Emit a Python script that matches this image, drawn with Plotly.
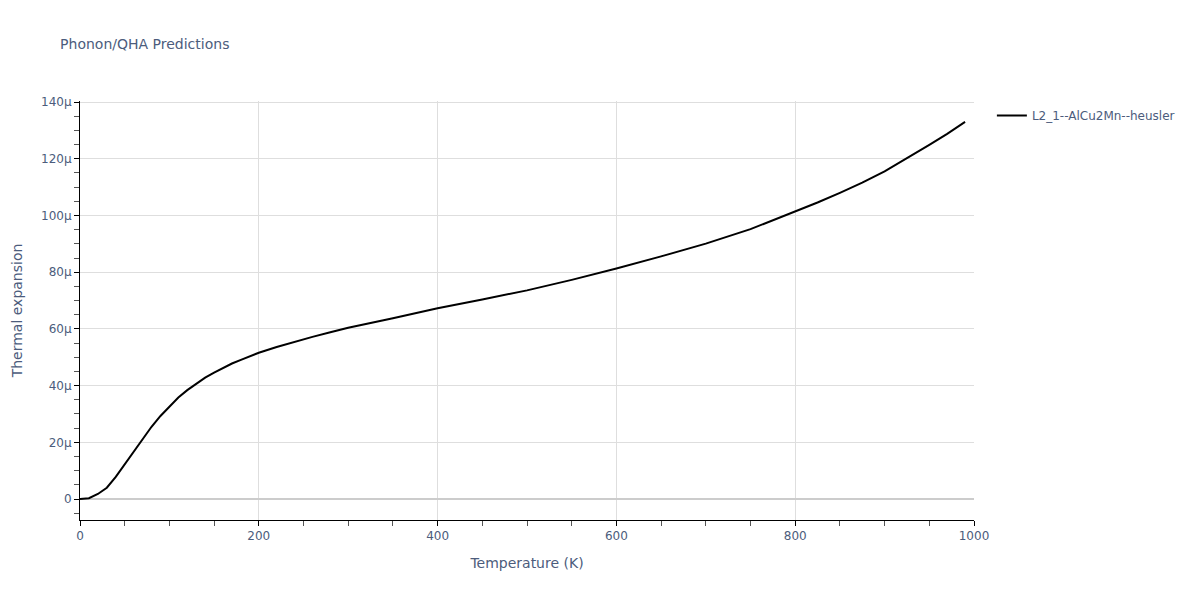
import plotly.graph_objects as go

# phonon / QHA thermal expansion
temperature = [0, 10, 20, 30, 40, 50, 60, 70, 80, 90, 100, 110, 120, 130, 140,
               150, 160, 170, 180, 190, 200, 220, 240, 260, 280, 300, 350, 400,
               450, 500, 550, 600, 650, 700, 750, 800, 825, 850, 875, 900, 925,
               950, 970, 990]
expansion_micro = [0, 0.3, 1.8, 4.0, 7.8, 12.2, 16.5, 20.8, 25.5, 29.3, 32.5,
                   35.8, 38.4, 40.7, 42.8, 44.6, 46.3, 47.8, 49.1, 50.4, 51.6,
                   53.6, 55.5, 57.2, 58.8, 60.4, 63.8, 67.3, 70.4, 73.6, 77.3,
                   81.3, 85.6, 90.1, 95.2, 101.4, 104.6, 108.0, 111.6, 115.6,
                   120.2, 124.9, 128.8, 133.0]
expansion = [v * 1e-6 for v in expansion_micro]

trace = go.Scatter(
    x=temperature,
    y=expansion,
    mode="lines",
    name="L2_1--AlCu2Mn--heusler",
    line=dict(color="black", width=2),
    showlegend=True,
)

grid = "#dedede"

layout = go.Layout(
    template="plotly_white",
    font=dict(family="DejaVu Sans", size=12, color="#4c5c7c"),
    title=dict(text="Phonon/QHA Predictions", font=dict(size=14), x=0.044, y=0.946),
    # page body adds 8px around the figure, margins are trimmed to suit
    margin=dict(l=72, r=215, t=93, b=72),
    showlegend=True,
    xaxis=dict(
        title=dict(text="Temperature (K)", font=dict(size=14)),
        range=[0, 1000],
        showline=True,
        linecolor="black",
        gridcolor=grid,
        ticks="outside",
        tickcolor="black",
        ticklen=5,
        minor=dict(ticks="outside", dtick=50, ticklen=5, tickcolor="#555", showgrid=False),
    ),
    yaxis=dict(
        title=dict(text="Thermal expansion", font=dict(size=14)),
        automargin=False,
        showline=True,
        linecolor="black",
        gridcolor=grid,
        ticks="outside",
        tickcolor="black",
        ticklen=5,
        dtick=20e-6,
        zeroline=True,
        zerolinecolor="#cccccc",
        zerolinewidth=2,
        minor=dict(ticks="outside", dtick=5e-6, ticklen=5, tickcolor="#555", showgrid=False),
    ),
)

fig = go.Figure(data=[trace], layout=layout)
fig.write_html("out.html")
